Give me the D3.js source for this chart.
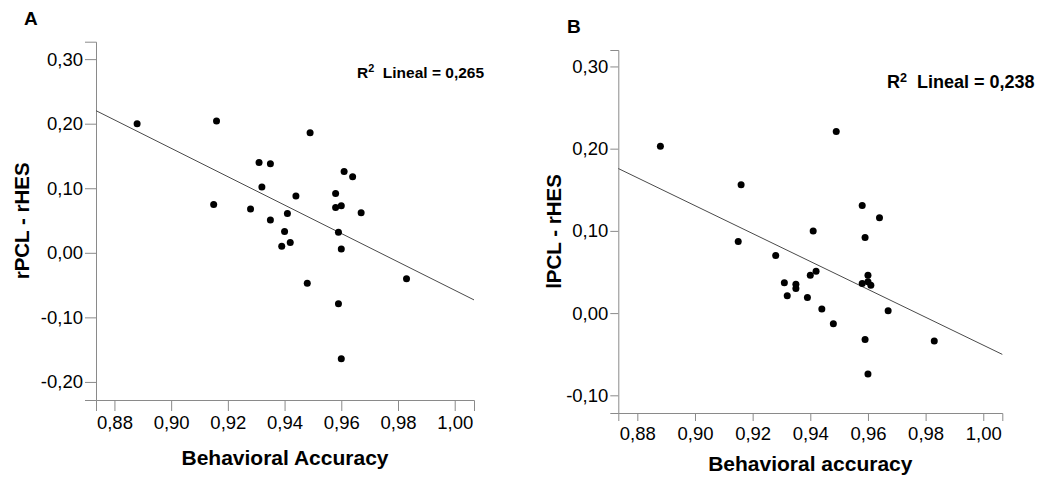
<!DOCTYPE html>
<html>
<head>
<meta charset="utf-8">
<script src="https://cdn.jsdelivr.net/npm/d3@7"></script>
<style>
  body { margin: 0; background: #fff; }
  svg { display: block; font-family: "Liberation Sans", Arial, sans-serif; }
  .tick text { fill: #000; }
  .domain, .tick line { stroke: #8a8a8a; }
</style>
</head>
<body>
<div id="chart"></div>
<script>
// Panel A data: behavioral accuracy vs rPCL - rHES
var accuracyA = [0.888, 0.916, 0.949, 0.931, 0.935, 0.932, 0.944, 0.915, 0.928, 0.935,
                 0.941, 0.961, 0.964, 0.958, 0.960, 0.958, 0.967, 0.940, 0.959, 0.939,
                 0.942, 0.960, 0.948, 0.983, 0.959, 0.960];
var rpclA = [0.200, 0.204, 0.186, 0.140, 0.138, 0.102, 0.088, 0.075, 0.068, 0.051,
             0.061, 0.126, 0.118, 0.092, 0.073, 0.070, 0.062, 0.033, 0.032, 0.010,
             0.016, 0.006, -0.047, -0.040, -0.079, -0.164];

// Panel B data: behavioral accuracy vs lPCL - rHES
var accuracyB = [0.888, 0.949, 0.916, 0.958, 0.964, 0.941, 0.959, 0.915, 0.928, 0.931,
                 0.935, 0.935, 0.940, 0.942, 0.932, 0.939, 0.944, 0.948, 0.958, 0.960,
                 0.960, 0.961, 0.967, 0.959, 0.983, 0.960];
var lpclB = [0.203, 0.221, 0.156, 0.131, 0.116, 0.100, 0.092, 0.087, 0.070, 0.037,
             0.035, 0.030, 0.046, 0.051, 0.021, 0.019, 0.005, -0.013, 0.036, 0.046,
             0.038, 0.034, 0.003, -0.032, -0.034, -0.074];

// fitted lines [intercept, slope]
var fitA = [2.141, -2.199];
var fitB = [1.658, -1.697];

var xTicks = [0.88, 0.90, 0.92, 0.94, 0.96, 0.98, 1.00];
var yTicksA = [-0.20, -0.10, 0.00, 0.10, 0.20, 0.30];
var yTicksB = [-0.10, 0.00, 0.10, 0.20, 0.30];

var locale = d3.formatLocale({decimal: ",", thousands: ".", grouping: [3], currency: ["", ""], minus: "-"});
var fmt = locale.format(".2f");

var svg = d3.select("#chart").append("svg")
  .attr("width", 1037)
  .attr("height", 479);

function drawPanel(p) {
  var x = d3.scaleLinear().domain(p.xDomain).range(p.xRange);
  var y = d3.scaleLinear().domain(p.yDomain).range(p.yRange);

  var g = svg.append("g");

  g.append("g")
    .attr("transform", `translate(0, ${p.yRange[0]})`)
    .call(d3.axisBottom(x).tickValues(xTicks).tickFormat(fmt)
      .tickSizeOuter(0).tickSize(p.tick).tickPadding(p.xPad))
    .attr("font-size", 18.5).attr("font-family", null);

  g.append("g")
    .attr("transform", `translate(${p.xRange[0]}, 0)`)
    .call(d3.axisLeft(y).tickValues(p.yTicks).tickFormat(fmt)
      .tickSizeOuter(0).tickSize(p.tick).tickPadding(2))
    .attr("font-size", 18.5).attr("font-family", null);

  // regression line across the x range
  g.append("line")
    .attr("x1", x(p.xDomain[0])).attr("y1", y(p.fit[0] + p.fit[1] * p.xDomain[0]))
    .attr("x2", x(p.xDomain[1])).attr("y2", y(p.fit[0] + p.fit[1] * p.xDomain[1]))
    .attr("stroke", "#4a4a4a").attr("stroke-width", 1);

  g.selectAll("circle")
    .data(p.xs)
    .enter()
    .append("circle")
    .attr("cx", d => x(d))
    .attr("cy", (d, i) => y(p.ys[i]))
    .attr("r", 3.5)
    .attr("fill", "#000");

  // R2 label
  var r2 = g.append("text")
    .attr("x", p.r2x).attr("y", p.r2y)
    .attr("font-size", p.r2size).attr("font-weight", "bold");
  r2.append("tspan").text("R");
  r2.append("tspan").attr("dy", -6).attr("font-size", p.r2size * 0.7).text("2");
  r2.append("tspan").attr("dy", 6).text("\u00a0 Lineal = " + p.r2);

  // axis titles
  g.append("text")
    .attr("x", (p.xRange[0] + p.xRange[1]) / 2).attr("y", p.xTitleY)
    .attr("text-anchor", "middle")
    .attr("font-size", 21).attr("font-weight", "bold")
    .text(p.xTitle);

  g.append("text")
    .attr("transform", `translate(${p.yTitleX}, ${(p.yRange[0] + p.yRange[1]) / 2}) rotate(-90)`)
    .attr("text-anchor", "middle")
    .attr("font-size", 20.5).attr("font-weight", "bold")
    .text(p.yTitle);

  g.append("text")
    .attr("x", p.letterX).attr("y", p.letterY)
    .attr("font-size", 19).attr("font-weight", "bold")
    .text(p.letter);
}

drawPanel({
  xs: accuracyA, ys: rpclA, fit: fitA, yTicks: yTicksA,
  xDomain: [0.8735, 1.0068], xRange: [96, 474],
  yDomain: [-0.228, 0.327], yRange: [400, 41.7],
  tick: 11, xPad: 5,
  r2: "0,265", r2x: 357, r2y: 78, r2size: 15.5,
  xTitle: "Behavioral Accuracy", xTitleY: 465,
  yTitle: "rPCL - rHES", yTitleX: 29,
  letter: "A", letterX: 24, letterY: 25
});

drawPanel({
  xs: accuracyB, ys: lpclB, fit: fitB, yTicks: yTicksB,
  xDomain: [0.8734, 1.0066], xRange: [618.3, 1002.3],
  yDomain: [-0.1215, 0.320], yRange: [413, 50],
  tick: 8, xPad: 6,
  r2: "0,238", r2x: 887, r2y: 88, r2size: 18,
  xTitle: "Behavioral accuracy", xTitleY: 471,
  yTitle: "lPCL - rHES", yTitleX: 561,
  letter: "B", letterX: 567, letterY: 33
});
</script>
</body>
</html>
